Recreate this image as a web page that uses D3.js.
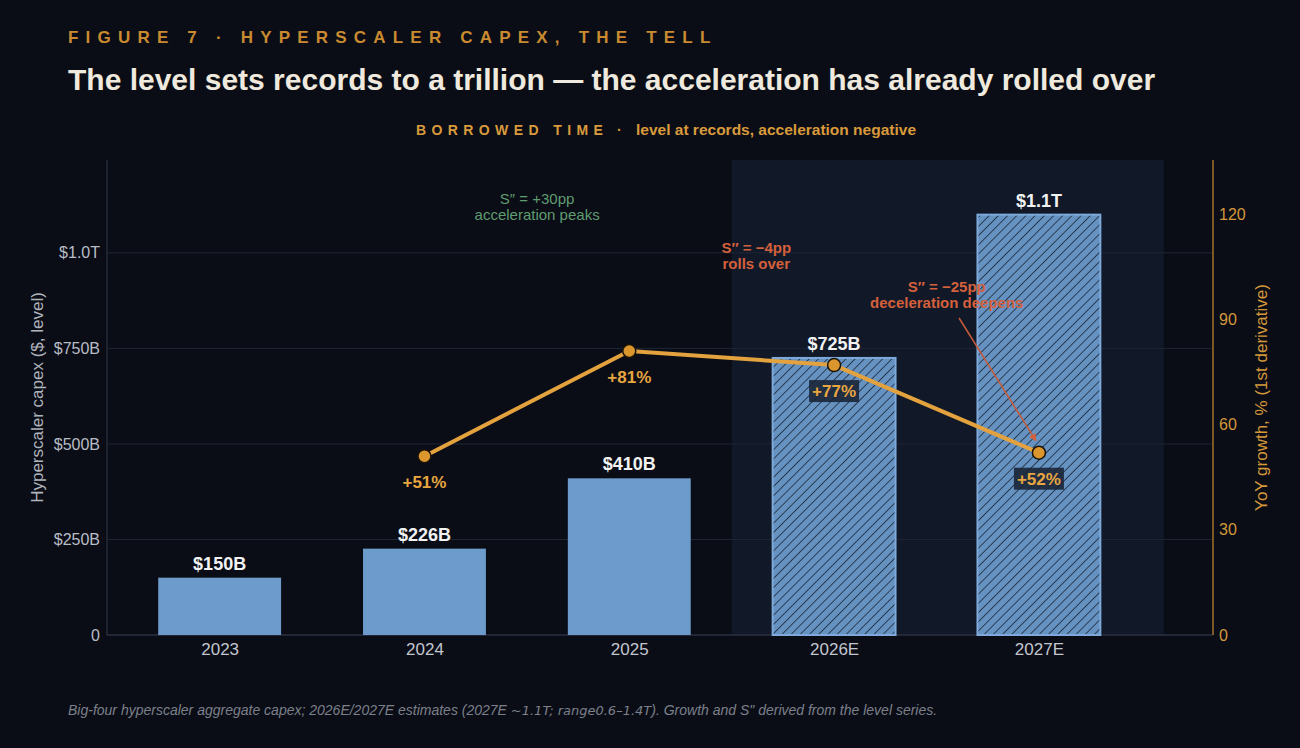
<!DOCTYPE html>
<html>
<head>
<meta charset="utf-8">
<script src="https://cdn.jsdelivr.net/npm/d3@7"></script>
<style>
  html, body { margin: 0; padding: 0; background: #0a0d16; }
  svg { display: block; font-family: "Liberation Sans", Arial, sans-serif; }
</style>
</head>
<body>
<div id="chart"></div>
<script>
'use strict';
// chart data
var years = ['2023', '2024', '2025', '2026E', '2027E'];
var capex = [150, 226, 410, 725, 1100];          // $B
var estimated = [false, false, false, true, true];
var capexLabels = ['$150B', '$226B', '$410B', '$725B', '$1.1T'];
var growthYears = ['2024', '2025', '2026E', '2027E'];
var growth = [51, 81, 77, 52];                    // YoY %
var leftTicks = [0, 250, 500, 750, 1000];
var leftTickLabels = ['0', '$250B', '$500B', '$750B', '$1.0T'];
var rightTicks = [0, 30, 60, 90, 120];
var notes = [
  { year: '2025', dx: -0.45, top: 199, lines: ['S\u2033 = +30pp', 'acceleration peaks'], color: '#5f9c70', weight: 'normal' },
  { year: '2026E', dx: -0.38, top: 248, lines: ['S\u2033 = \u22124pp', 'rolls over'], color: '#d4603c', weight: 'bold' },
  { year: '2027E', dx: -0.45, top: 287, lines: ['S\u2033 = \u221225pp', 'deceleration deepens'], color: '#d4603c', weight: 'bold' }
];

var W = 1300, H = 748;
var m = { left: 107, right: 1213, top: 160, bottom: 635 };

var svg = d3.select('#chart').append('svg')
  .attr('width', W).attr('height', H);

svg.append('rect').attr('width', W).attr('height', H).attr('fill', '#0a0d16');

var x = d3.scaleLinear().domain([-0.55, 4.85]).range([m.left, m.right]);
var yL = d3.scaleLinear().domain([0, 1243]).range([m.bottom, m.top]);
var yR = d3.scaleLinear().domain([0, 135.5]).range([m.bottom, m.top]);
var idx = function (yr) { return years.indexOf(yr); };

// hatch pattern for estimates
var defs = svg.append('defs');
var pat = defs.append('pattern')
  .attr('id', 'hatch').attr('patternUnits', 'userSpaceOnUse')
  .attr('width', 6.5).attr('height', 6.5)
  .attr('patternTransform', 'rotate(45)');
pat.append('rect').attr('width', 6.5).attr('height', 6.5).attr('fill', '#6692c2');
pat.append('line').attr('x1', 0).attr('y1', 0).attr('x2', 0).attr('y2', 6.5)
  .attr('stroke', '#16202f').attr('stroke-width', 1.5);

// header
svg.append('text').attr('x', 68).attr('y', 43)
  .attr('fill', '#c98a30').attr('font-size', 17).attr('font-weight', 'bold')
  .attr('letter-spacing', 7.2)
  .text('FIGURE 7 \u00b7 HYPERSCALER CAPEX, THE TELL');
svg.append('text').attr('x', 68).attr('y', 90)
  .attr('fill', '#efe9de').attr('font-size', 30).attr('font-weight', 'bold')
  .text('The level sets records to a trillion \u2014 the acceleration has already rolled over');

var sub = svg.append('text').attr('y', 135)
  .attr('font-weight', 'bold').attr('fill', '#d99a3c');
sub.append('tspan').attr('x', 416).attr('font-size', 14).attr('letter-spacing', 5.4).text('BORROWED TIME');
sub.append('tspan').attr('x', 617).attr('font-size', 14).text('\u00b7');
sub.append('tspan').attr('x', 636).attr('font-size', 15.5).text('level at records, acceleration negative');

// estimate shading
svg.append('rect')
  .attr('x', x(2.5)).attr('y', m.top)
  .attr('width', x(4.61) - x(2.5)).attr('height', m.bottom - m.top)
  .attr('fill', '#111828');

// grid
svg.append('g').selectAll('line').data(leftTicks.slice(1)).enter().append('line')
  .attr('x1', m.left).attr('x2', m.right)
  .attr('y1', function (d) { return yL(d); }).attr('y2', function (d) { return yL(d); })
  .attr('stroke', '#1f2636').attr('stroke-width', 1);

// spines
svg.append('line').attr('x1', m.left).attr('x2', m.left).attr('y1', m.top).attr('y2', m.bottom)
  .attr('stroke', '#2a3142').attr('stroke-width', 1.2);
svg.append('line').attr('x1', m.left).attr('x2', m.right).attr('y1', m.bottom).attr('y2', m.bottom)
  .attr('stroke', '#2a3142').attr('stroke-width', 1.5);
svg.append('line').attr('x1', m.right).attr('x2', m.right).attr('y1', m.top).attr('y2', m.bottom)
  .attr('stroke', '#c98a30').attr('stroke-width', 1.2);

// bars
var bw = x(0.3) - x(0);
var bars = svg.append('g').selectAll('g').data(years).enter().append('g');
bars.append('rect')
  .attr('x', function (d, i) { return x(i) - bw; })
  .attr('y', function (d, i) { return yL(capex[i]); })
  .attr('width', bw * 2)
  .attr('height', function (d, i) { return m.bottom - yL(capex[i]); })
  .attr('fill', function (d, i) { return estimated[i] ? 'url(#hatch)' : '#6d9bcb'; })
  .attr('stroke', function (d, i) { return estimated[i] ? '#7eaadb' : 'none'; })
  .attr('stroke-width', 2);
bars.append('text')
  .attr('x', function (d, i) { return x(i); })
  .attr('y', function (d, i) { return yL(capex[i]) - 8; })
  .attr('text-anchor', 'middle').attr('fill', '#f2f2f2')
  .attr('font-size', 18).attr('font-weight', 'bold')
  .text(function (d, i) { return capexLabels[i]; });

// axes
var axL = svg.append('g').attr('transform', 'translate(' + m.left + ',0)')
  .call(d3.axisLeft(yL).tickValues(leftTicks).tickSize(0).tickPadding(7)
    .tickFormat(function (d, i) { return leftTickLabels[i]; }));
axL.select('.domain').remove();
axL.selectAll('text').attr('fill', '#b8bcc6').attr('font-size', 16)
  .attr('font-family', '"Liberation Sans", Arial, sans-serif');

var axR = svg.append('g').attr('transform', 'translate(' + m.right + ',0)')
  .call(d3.axisRight(yR).tickValues(rightTicks).tickSize(0).tickPadding(6));
axR.select('.domain').remove();
axR.selectAll('text').attr('fill', '#d4983a').attr('font-size', 16)
  .attr('font-family', '"Liberation Sans", Arial, sans-serif');

var axB = svg.append('g').attr('transform', 'translate(0,' + m.bottom + ')')
  .call(d3.axisBottom(x).tickValues(d3.range(years.length)).tickSize(0).tickPadding(8)
    .tickFormat(function (d) { return years[d]; }));
axB.select('.domain').remove();
axB.selectAll('text').attr('fill', '#c2c6ce').attr('font-size', 17)
  .attr('font-family', '"Liberation Sans", Arial, sans-serif');

svg.append('text')
  .attr('transform', 'translate(43,' + (m.top + m.bottom) / 2 + ') rotate(-90)')
  .attr('text-anchor', 'middle').attr('fill', '#b0b4bd').attr('font-size', 17)
  .text('Hyperscaler capex ($, level)');
svg.append('text')
  .attr('transform', 'translate(1267,' + (m.top + m.bottom) / 2 + ') rotate(-90)')
  .attr('text-anchor', 'middle').attr('fill', '#d4983a').attr('font-size', 17)
  .text('YoY growth, % (1st derivative)');

// annotations
notes.forEach(function (n) {
  var t = svg.append('text').attr('text-anchor', 'middle')
    .attr('fill', n.color).attr('font-size', 15).attr('font-weight', n.weight);
  n.lines.forEach(function (l, k) {
    t.append('tspan').attr('x', x(idx(n.year) + n.dx)).attr('y', n.top + 5 + k * 16).text(l);
  });
});

// arrow for the last note
defs.append('marker').attr('id', 'arr').attr('viewBox', '0 0 10 10')
  .attr('refX', 9).attr('refY', 5).attr('markerWidth', 5).attr('markerHeight', 5)
  .attr('orient', 'auto')
  .append('path').attr('d', 'M0,0 L10,5 L0,10 Z').attr('fill', '#d4603c');
svg.append('line')
  .attr('x1', x(idx('2027E') - 0.39)).attr('y1', 318)
  .attr('x2', x(idx('2027E') - 0.015)).attr('y2', yR(growth[3]) - 12)
  .attr('stroke', '#c45a3a').attr('stroke-width', 1.5)
  .attr('marker-end', 'url(#arr)');

// growth line
var pts = growthYears.map(function (yr, i) { return [x(idx(yr)), yR(growth[i])]; });
svg.append('path').datum(pts)
  .attr('d', d3.line())
  .attr('fill', 'none').attr('stroke', '#e3a23e').attr('stroke-width', 4)
  .attr('stroke-linejoin', 'round');
svg.append('g').selectAll('circle').data(pts).enter().append('circle')
  .attr('cx', function (d) { return d[0]; }).attr('cy', function (d) { return d[1]; })
  .attr('r', 6.5).attr('fill', '#dc962e').attr('stroke', '#1a1408').attr('stroke-width', 1.5);

// growth labels
var gl = svg.append('g').selectAll('g').data(growthYears).enter().append('g');
gl.append('rect')
  .attr('x', function (d) { return x(idx(d)) - 25; })
  .attr('y', function (d, i) { return yR(growth[i]) + 15; })
  .attr('width', 50).attr('height', 22)
  .attr('fill', '#1b2638').attr('opacity', function (d) { return estimated[idx(d)] ? 0.9 : 0; });
gl.append('text')
  .attr('x', function (d) { return x(idx(d)); })
  .attr('y', function (d, i) { return yR(growth[i]) + 32; })
  .attr('text-anchor', 'middle').attr('fill', '#e8a640')
  .attr('font-size', 17).attr('font-weight', 'bold')
  .text(function (d, i) { return '+' + growth[i] + '%'; });

// footnote
var fn = svg.append('text').attr('x', 68).attr('y', 715)
  .attr('fill', '#7c808a').attr('font-size', 14).attr('font-style', 'italic');
fn.append('tspan').text('Big-four hyperscaler aggregate capex; 2026E/2027E estimates (2027E ');
fn.append('tspan').attr('font-family', '"DejaVu Sans", sans-serif').attr('font-size', 13).text('~1.1T; range0.6\u20131.4T');
fn.append('tspan').text('). Growth and S" derived from the level series.');
</script>
</body>
</html>
